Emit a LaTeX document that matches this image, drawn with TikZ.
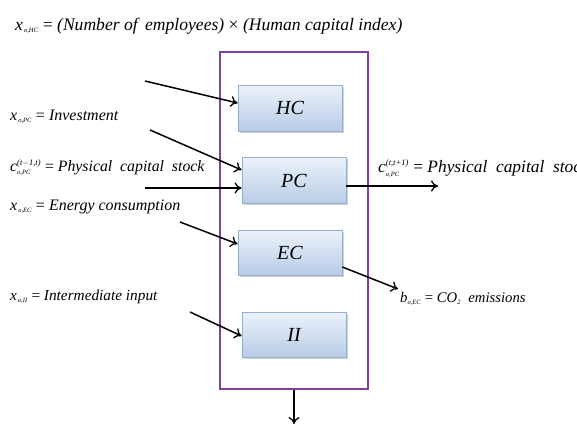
\documentclass[tikz,border=0pt]{standalone}
\usepackage{fontspec}
\setmainfont{Liberation Serif}
\usetikzlibrary{arrows.meta,shadows}
\definecolor{frame}{RGB}{128,64,160}
\definecolor{boxtop}{RGB}{236,242,250}
\definecolor{boxbot}{RGB}{184,204,230}
\definecolor{boxline}{RGB}{150,175,205}
\newcommand{\sbs}[1]{\mbox{\fontsize{6.5}{6.5}\selectfont #1}}
\newcommand{\sps}[1]{\mbox{\fontsize{8.5}{8.5}\selectfont\itshape #1}}
\begin{document}
\begin{tikzpicture}[x=1pt,y=-1pt,
  procbox/.style={draw=boxline,line width=0.8pt,top color=boxtop,bottom color=boxbot,
    drop shadow={shadow xshift=1.5pt,shadow yshift=-1.5pt,fill=black!35,opacity=0.5},
    minimum width=104pt,minimum height=46pt,inner sep=0pt,
    font=\fontsize{20}{20}\selectfont\itshape},
  lbl/.style={anchor=base west,inner sep=0pt,font=\fontsize{16}{16}\selectfont\itshape},
  arr/.style={line width=1.5pt,-{To[length=7pt,width=11pt,line width=1.3pt]}}]
\useasboundingbox (0,0) rectangle (577,445);
\clip (0,0) rectangle (577,445);
% frame
\node[draw=frame,line width=1.4pt,minimum width=148pt,minimum height=337pt,inner sep=0pt] (frm) at (294,220.5) {};
% boxes
\node[procbox] (hc) at (290,108) {HC};
\node[procbox] (pc) at (294,180.5) {PC};
\node[procbox,minimum height=45pt] (ec) at (290,252.5) {EC};
\node[procbox,minimum height=45pt] (ii) at (294,334.5) {II};
% labels
\node[lbl,font=\fontsize{17.6}{17.6}\selectfont\itshape] (thc) at (15,30) {x\hspace{1pt}$_{\sbs{o,HC}}$ {\upshape =} (Number of\, employees) {\upshape ×} (Human capital index)};
\node[lbl] (tpc) at (10,120) {x\hspace{1pt}$_{\sbs{o,PC}}$ {\upshape =} Investment};
\node[lbl,font=\fontsize{15.8}{15.8}\selectfont\itshape] (tc) at (10,171) {c$^{\sps{(t$-$1,t)}}_{\sbs{o,PC}}$ {\upshape =} Physical\ \ capital\ \ stock};
\node[lbl] (tec) at (10,210) {x\hspace{1pt}$_{\sbs{o,EC}}$ {\upshape =} Energy consumption};
\node[lbl,font=\fontsize{15.3}{15.3}\selectfont\itshape] (tii) at (10,300) {x\hspace{1pt}$_{\sbs{o,II}}$ {\upshape =} Intermediate input};
\node[lbl,font=\fontsize{17.4}{17.4}\selectfont\itshape] (tout) at (378,172) {c$^{\sps{(t,t+1)}}_{\sbs{o,PC}}$ {\upshape =} Physical\ \ capital\ \ stock};
\node[lbl,font=\fontsize{14.7}{14.7}\selectfont\itshape] (tco) at (400,302) {b$_{\sbs{o,EC}}$ {\upshape =} CO$_{\sbs{2}}$\ \ emissions};
% coordinates for free ends
\coordinate (s1) at (145,81);
\coordinate (s2) at (150,130);
\coordinate (s3) at (145,188);
\coordinate (s4) at (180,222);
\coordinate (s5) at (190,312);
\coordinate (e1) at (438,186);
\coordinate (e2) at (398,289);
\coordinate (e3) at (294,424);
% arrows
\draw[arr] (s1) -- (hc.west |- 0,103);
\draw[arr] (s2) -- (pc.west |- 0,170);
\draw[arr] (s3) -- (pc.west |- 0,188);
\draw[arr] (s4) -- (ec.west |- 0,244);
\draw[arr] (s5) -- (ii.west |- 0,336);
\draw[arr] (pc.east |- 0,186) -- (e1);
\draw[arr] (ec.east |- 0,267) -- (e2);
\draw[arr] (frm.south) -- (e3);
\end{tikzpicture}
\end{document}
